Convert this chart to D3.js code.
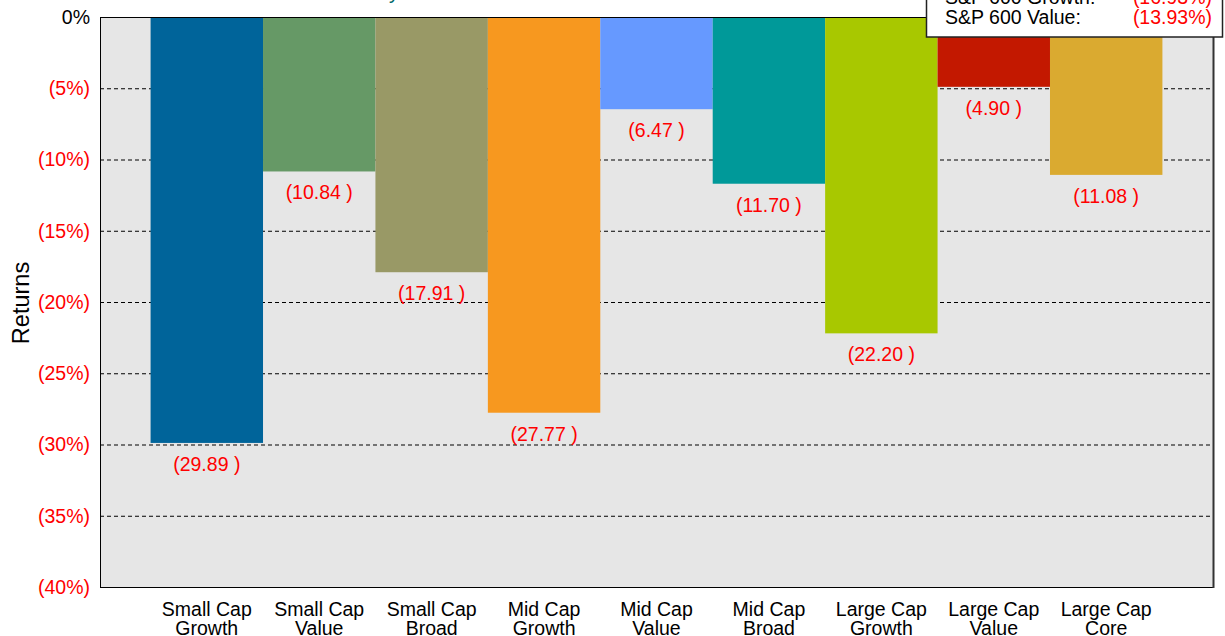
<!DOCTYPE html>
<html><head><meta charset="utf-8">
<script src="https://cdn.jsdelivr.net/npm/d3@7"></script>
<style>body{margin:0;background:#fff;} svg{display:block;font-family:"Liberation Sans",Arial,sans-serif;}</style>
</head><body>
<svg id="c" width="1225" height="636"></svg>
<script>
const categories = [["Small Cap","Growth"],["Small Cap","Value"],["Small Cap","Broad"],["Mid Cap","Growth"],["Mid Cap","Value"],["Mid Cap","Broad"],["Large Cap","Growth"],["Large Cap","Value"],["Large Cap","Core"]];
const values = [-29.89,-10.84,-17.91,-27.77,-6.47,-11.70,-22.20,-4.90,-11.08];
const colors = ["#00649a","#669966","#999966","#f7981f","#6699ff","#009999","#a8c800","#c31800","#daaa30"];
const yTicks = [0,-5,-10,-15,-20,-25,-30,-35,-40];
const legendNames = ["S&P 600 Growth:","S&P 600 Value:"];
const legendValues = ["(16.93%)","(13.93%)"];

const FS = 19.5;
const svg = d3.select("#c");
const L=100,R=1213,T=17,B=587;
const x = d3.scaleBand().domain(d3.range(categories.length)).range([L,R]).paddingInner(0).paddingOuter(0.45);
const y = d3.scaleLinear().domain([0,-40]).range([T,B]);

svg.append("rect").attr("x",L).attr("y",T).attr("width",R-L).attr("height",B-T).attr("fill","#e6e6e6");
// grid
svg.append("g").selectAll("line").data(yTicks.filter(d=>d!==0&&d!==-40)).join("line")
  .attr("x1",L).attr("x2",R).attr("y1",d=>y(d)+0.5).attr("y2",d=>y(d)+0.5)
  .attr("stroke","#000").attr("stroke-dasharray","4,3").attr("stroke-width",1);
// bars
svg.append("g").selectAll("rect").data(values).join("rect")
  .attr("x",(d,i)=>x(i)).attr("width",x.bandwidth()).attr("y",y(0)).attr("height",d=>y(d)-y(0))
  .attr("fill",(d,i)=>colors[i]);
// value labels
svg.append("g").selectAll("text").data(values).join("text")
  .attr("x",(d,i)=>x(i)+x.bandwidth()/2).attr("y",d=>y(d)+28)
  .attr("text-anchor","middle").attr("font-size",FS).attr("fill","#ff0000")
  .text(d=>"("+Math.abs(d).toFixed(2)+" )");
// frame
svg.append("rect").attr("x",L+0.5).attr("y",T+0.5).attr("width",R-L).attr("height",B-T)
  .attr("fill","none").attr("stroke","#000").attr("stroke-width",1);
svg.append("line").attr("x1",R+0.5).attr("x2",R+0.5).attr("y1",T).attr("y2",B+1).attr("stroke","#333").attr("stroke-width",2);
// y axis
const yAxis = d3.axisLeft(y).tickValues(yTicks).tickSize(0).tickPadding(10)
  .tickFormat(d=>d===0?"0%":"("+Math.abs(d)+"%)");
const ga = svg.append("g").attr("transform",`translate(${L},0)`).call(yAxis);
ga.select(".domain").remove();
ga.selectAll("text").attr("font-size",FS).attr("font-family","Liberation Sans, Arial, sans-serif")
  .attr("fill",d=>d===0?"#000":"#ff0000");
svg.append("text").attr("transform","translate(29,303) rotate(-90)").attr("text-anchor","middle")
  .attr("font-size",23.5).attr("fill","#000").text("Returns");
// x labels
const xl = svg.append("g").selectAll("text").data(categories).join("text")
  .attr("x",(d,i)=>x(i)+x.bandwidth()/2).attr("text-anchor","middle").attr("font-size",FS).attr("fill","#000");
xl.append("tspan").attr("x",(d,i)=>x(i)+x.bandwidth()/2).attr("y",616).text(d=>d[0]);
xl.append("tspan").attr("x",(d,i)=>x(i)+x.bandwidth()/2).attr("y",635).text(d=>d[1]);
// title (cropped at top edge as in reference)
svg.append("text").attr("x",399).attr("y",-1).attr("text-anchor","end").attr("font-size",20)
  .attr("fill","#006666").text("Index Performance Summary");
// legend box
svg.append("rect").attr("x",926.5).attr("y",-10).attr("width",296).attr("height",47)
  .attr("fill","#fff").attr("stroke","#222").attr("stroke-width",1.5);
const lg = svg.append("g");
lg.selectAll(".ln").data(legendNames).join("text").attr("class","ln")
  .attr("x",945).attr("y",(d,i)=>4+i*20).attr("font-size",FS).attr("fill","#000").text(d=>d);
lg.selectAll(".lv").data(legendValues).join("text").attr("class","lv")
  .attr("x",1212).attr("y",(d,i)=>4+i*20).attr("text-anchor","end").attr("font-size",FS).attr("fill","#ff0000").text(d=>d);
</script>
</body></html>
